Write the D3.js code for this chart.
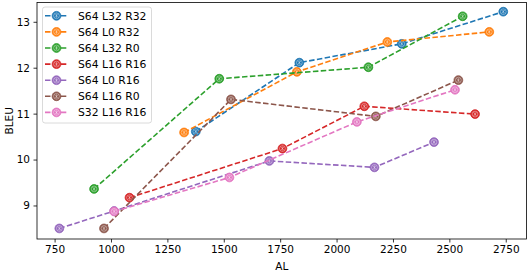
<!DOCTYPE html>
<html><head><meta charset="utf-8">
<script src="https://cdn.jsdelivr.net/npm/d3@7"></script>
<style>body{margin:0;background:#fff}svg{display:block;font-family:"DejaVu Sans",sans-serif}</style>
</head><body><svg id="c" width="528" height="270"></svg>
<script>
const seriesNames = ["S64 L32 R32","S64 L0 R32","S64 L32 R0","S64 L16 R16","S64 L0 R16","S64 L16 R0","S32 L16 R16"];
const colors = ["#1f77b4","#ff7f0e","#2ca02c","#d62728","#9467bd","#8c564b","#e377c2"];
const alS64L32R32 = [1376,1835,2289,2739];
const bleuS64L32R32 = [10.61,12.11,12.52,13.22];
const alS64L0R32 = [1324,1824,2225,2677];
const bleuS64L0R32 = [10.59,11.91,12.56,12.78];
const alS64L32R0 = [925,1480,2141,2559];
const bleuS64L32R0 = [9.36,11.76,12.01,13.12];
const alS64L16R16 = [1082,1760,2123,2614];
const bleuS64L16R16 = [9.17,10.24,11.16,10.99];
const alS64L0R16 = [771,1014,1702,2168,2432];
const bleuS64L0R16 = [8.5,8.88,9.97,9.83,10.38];
const alS64L16R0 = [969,1532,2174,2540];
const bleuS64L16R0 = [8.5,11.31,10.94,11.73];
const alS32L16R16 = [1014,1525,2090,2525];
const bleuS32L16R16 = [8.87,9.61,10.82,11.52];
const xTicks = [750,1000,1250,1500,1750,2000,2250,2500,2750];
const yTicks = [9,10,11,12,13];

const data = [
  [alS64L32R32,bleuS64L32R32],[alS64L0R32,bleuS64L0R32],[alS64L32R0,bleuS64L32R0],
  [alS64L16R16,bleuS64L16R16],[alS64L0R16,bleuS64L0R16],[alS64L16R0,bleuS64L16R0],[alS32L16R16,bleuS32L16R16]
].map((d,i)=>({name:seriesNames[i],color:colors[i],pts:d[0].map((x,j)=>[x,d[1][j]])}));

const L=37,R=526.5,T=2.5,B=239;
const x = d3.scaleLinear().domain([672,2842]).range([L,R]);
const y = d3.scaleLinear().domain([8.27,13.42]).range([B,T]);
const svg = d3.select("#c");

function marker(g,c){
  g.append("circle").attr("r",4.4).attr("fill",c).attr("stroke",c).attr("stroke-width",0.8);
  g.append("circle").attr("r",2.9).attr("fill","none").attr("stroke","#fff").attr("stroke-opacity",0.55).attr("stroke-width",0.7);
  const a=1.7;
  g.append("path").attr("d",`M${-a},${-a}L${a},${a}M${-a},${a}L${a},${-a}M0,${-a*1.2}L0,${a*1.2}`)
    .attr("stroke","#fff").attr("stroke-opacity",0.6).attr("stroke-width",0.6);
}

const line = d3.line().x(d=>x(d[0])).y(d=>y(d[1]));
const plot = svg.append("g");
data.forEach(s=>{
  plot.append("path").attr("d",line(s.pts)).attr("fill","none").attr("stroke",s.color)
    .attr("stroke-width",1.6).attr("stroke-dasharray","5.5,2.4");
  s.pts.forEach(p=>{ const g=plot.append("g").attr("transform",`translate(${x(p[0])},${y(p[1])})`); marker(g,s.color); });
});

const xa = svg.append("g").attr("transform",`translate(0,${B})`)
  .call(d3.axisBottom(x).tickValues(xTicks).tickSize(3.5).tickPadding(3.5).tickFormat(d3.format("d")));
const ya = svg.append("g").attr("transform",`translate(${L},0)`)
  .call(d3.axisLeft(y).tickValues(yTicks).tickSize(3.5).tickPadding(3.5).tickFormat(d3.format("d")));
[xa,ya].forEach(a=>{a.select(".domain").remove();a.selectAll("text").attr("font-size","10.5px").attr("font-family","DejaVu Sans").attr("fill","#000");a.selectAll("line").attr("stroke","#000").attr("stroke-width",0.8);});
svg.append("rect").attr("x",L).attr("y",T).attr("width",R-L).attr("height",B-T).attr("fill","none").attr("stroke","#000").attr("stroke-width",0.8);

svg.append("text").attr("x",(L+R)/2).attr("y",269.5).attr("text-anchor","middle").attr("font-size","10.5px").text("AL");
svg.append("text").attr("transform",`translate(13,${(T+B)/2}) rotate(-90)`).attr("text-anchor","middle").attr("font-size","10.5px").text("BLEU");

const lg = svg.append("g");
lg.append("rect").attr("x",42.5).attr("y",7).attr("width",109).attr("height",116).attr("rx",2.5)
  .attr("fill","#fff").attr("fill-opacity",0.8).attr("stroke","#d0d0d0").attr("stroke-width",0.8);
data.forEach((s,i)=>{
  const cy = 15.8 + i*16.1;
  lg.append("line").attr("x1",45).attr("x2",68).attr("y1",cy).attr("y2",cy).attr("stroke",s.color).attr("stroke-width",1.6).attr("stroke-dasharray","5.5,2.4");
  const g=lg.append("g").attr("transform",`translate(56.5,${cy})`); marker(g,s.color);
  lg.append("text").attr("x",78).attr("y",cy+3.8).attr("font-size","10.8px").text(s.name);
});
</script></body></html>
